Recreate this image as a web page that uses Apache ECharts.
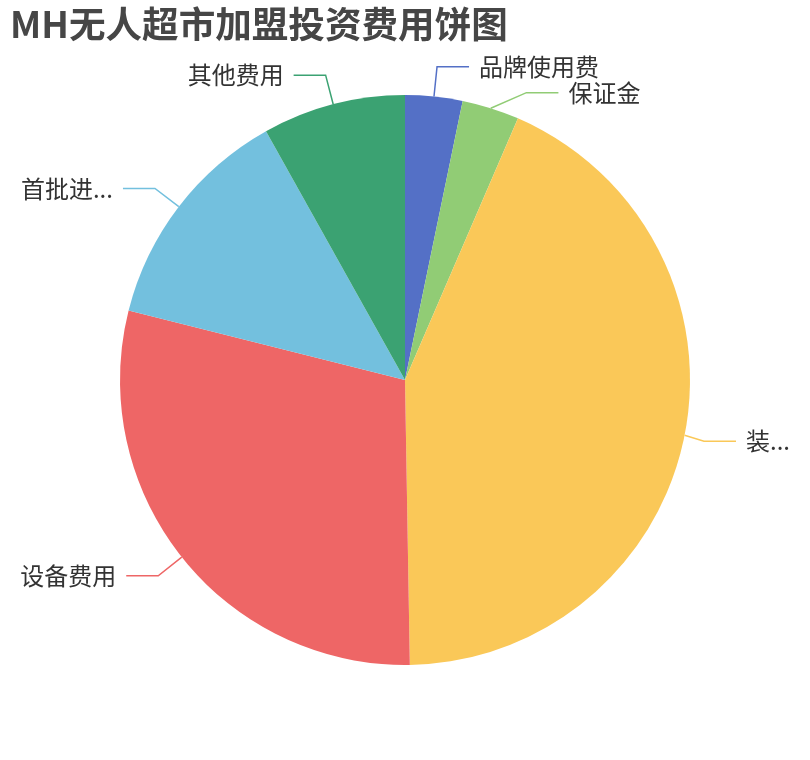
<!DOCTYPE html>
<html>
<head>
<meta charset="utf-8">
<script src="https://cdn.jsdelivr.net/npm/echarts@6/dist/echarts.min.js"></script>
<style>
html,body{margin:0;padding:0;background:#fff;}
#chart{width:810px;height:760px;}
</style>
</head>
<body>
<div id="chart"></div>
<script>
const titleText = 'MH无人超市加盟投资费用饼图';
const categories = ['品牌使用费', '保证金', '装修费用', '设备费用', '首批进货费用', '其他费用'];
const values = [3, 3, 40, 27, 12, 7.5];
const palette = ['#5470c6', '#91cc75', '#fac858', '#ee6666', '#73c0de', '#3ba272'];

const chart = echarts.init(document.getElementById('chart'));
const data = categories.map((name, i) => ({ name: name, value: values[i] }));
chart.setOption({
  color: palette,
  textStyle: { fontFamily: 'Noto Sans CJK SC, sans-serif' },
  title: {
    text: titleText,
    left: 5,
    top: 1,
    textStyle: { fontSize: 36.6, fontWeight: 'bold', color: '#464646', fontFamily: 'Noto Sans CJK SC, sans-serif' }
  },
  series: [{
    type: 'pie',
    radius: '75%',
    center: ['50%', '50%'],
    startAngle: 90,
    data: data,
    itemStyle: { borderWidth: 0 },
    label: { fontSize: 24, color: '#333', distanceToLabelLine: 10, fontFamily: 'Noto Sans CJK SC, sans-serif' },
    labelLine: { length: 30, length2: 32, lineStyle: { width: 1.5 } },
    animation: false
  }]
});
</script>
</body>
</html>
